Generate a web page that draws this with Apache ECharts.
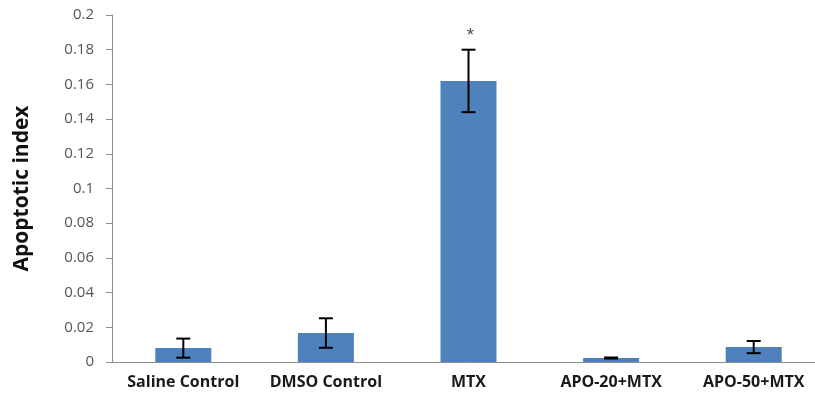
<!DOCTYPE html>
<html><head><meta charset="utf-8">
<script src="https://cdn.jsdelivr.net/npm/echarts@6/dist/echarts.min.js"></script>
<style>html,body{margin:0;padding:0;background:#fff;overflow:hidden}#c{width:830px;height:408px}</style>
</head><body><div id="c"></div>
<script>
var categories = ['Saline Control','DMSO Control','MTX','APO-20+MTX','APO-50+MTX'];
var values = [0.008, 0.0167, 0.162, 0.0023, 0.0086];
var errors = [0.0055, 0.0085, 0.018, 0.0003, 0.0035];
var yTicks = [0,0.02,0.04,0.06,0.08,0.1,0.12,0.14,0.16,0.18,0.2];
var marks = ['', '', '*', '', ''];

var errData = values.map(function(v,i){return [i, v-errors[i], v+errors[i]];});
var chart = echarts.init(document.getElementById('c'));
chart.setOption({
  animation:false,
  grid:{left:112, top:15, width:713, height:347, containLabel:false},
  xAxis:{type:'category', data:categories,
    axisLine:{lineStyle:{color:'#8c8c8c', width:1}},
    axisTick:{show:false},
    axisLabel:{interval:0, hideOverlap:false, color:'#1a1a1a', fontWeight:'bold', fontSize:16, fontFamily:'Open Sans, Liberation Sans, sans-serif', margin:12}},
  yAxis:{type:'value', min:0, max:0.2, interval:0.02,
    name:'Apoptotic index', nameLocation:'middle', nameGap:79, nameRotate:90,
    nameTextStyle:{fontSize:21, fontWeight:'bold', color:'#111', fontFamily:'Open Sans, Liberation Sans, sans-serif'},
    splitLine:{show:false},
    axisLine:{show:true, lineStyle:{color:'#8c8c8c'}},
    axisTick:{show:true, inside:false, length:6, lineStyle:{color:'#8c8c8c'}},
    axisLabel:{color:'#555', fontSize:15, margin:18, fontFamily:'Open Sans, Liberation Sans, sans-serif',
      formatter:function(v){var t=yTicks.filter(function(x){return Math.abs(x-v)<1e-9;}); return t.length? String(+v.toFixed(2)) : '';}}},
  series:[
    {type:'bar', data:values, barWidth:56, itemStyle:{color:'#4f81bd'},
     label:{show:false}},
    {type:'custom', data:errData, z:5,
     renderItem:function(params, api){
       var x=api.value(0);
       var lo=api.coord([x, api.value(1)]);
       var hi=api.coord([x, api.value(2)]);
       var hw=7;
       var st={stroke:'#000', lineWidth:2};
       return {type:'group', children:[
         {type:'line', shape:{x1:lo[0],y1:lo[1],x2:hi[0],y2:hi[1]}, style:st},
         {type:'line', shape:{x1:lo[0]-hw,y1:lo[1],x2:lo[0]+hw,y2:lo[1]}, style:st},
         {type:'line', shape:{x1:hi[0]-hw,y1:hi[1],x2:hi[0]+hw,y2:hi[1]}, style:st}
       ]};
     }},
    {type:'scatter', symbolSize:0, z:6,
     data:values.map(function(v,i){return {value:[i, v+errors[i]], label:{show:marks[i]!=='', formatter:marks[i]}};}),
     label:{position:'top', distance:4, offset:[2,0], color:'#222', fontSize:19, fontFamily:'Liberation Sans, sans-serif'}}
  ]
});
</script></body></html>
